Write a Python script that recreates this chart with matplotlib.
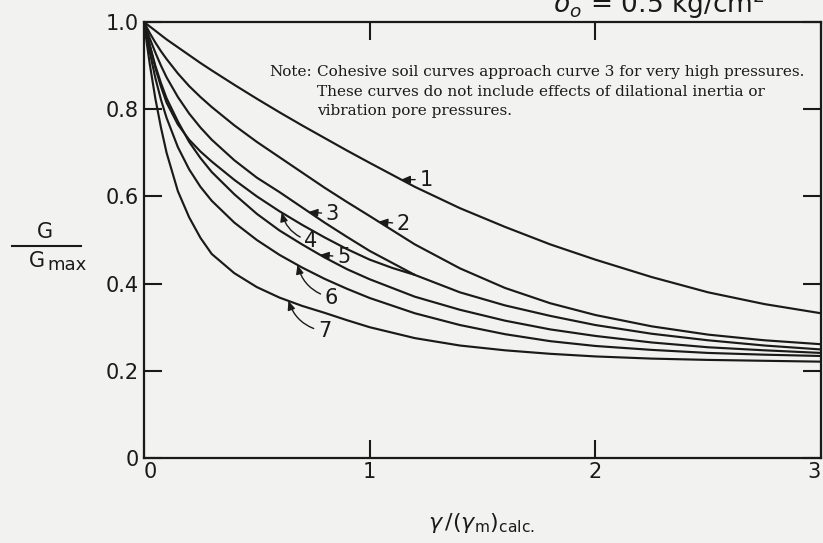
import numpy as np
import matplotlib
matplotlib.use("Agg")
import matplotlib.pyplot as plt
from matplotlib.lines import Line2D

# ---------------- data ----------------
x = [0, 0.01, 0.025, 0.05, 0.075, 0.1, 0.15, 0.2, 0.25, 0.3, 0.4, 0.5, 0.6, 0.7, 0.8, 0.9,
     1.0, 1.2, 1.4, 1.6, 1.8, 2.0, 2.25, 2.5, 2.75, 3.0]
curve1 = [1.0, 0.996, 0.99, 0.98, 0.97, 0.96, 0.942, 0.924, 0.906, 0.889, 0.856, 0.824, 0.793, 0.763, 0.734, 0.705,
          0.677, 0.622, 0.573, 0.53, 0.49, 0.455, 0.415, 0.38, 0.353, 0.332]
curve2 = [1.0, 0.99, 0.975, 0.953, 0.933, 0.915, 0.882, 0.853, 0.828, 0.805, 0.763, 0.725, 0.69, 0.655, 0.62, 0.587,
          0.555, 0.49, 0.435, 0.39, 0.355, 0.328, 0.302, 0.283, 0.27, 0.261]
curve3 = [1.0, 0.985, 0.963, 0.93, 0.90, 0.873, 0.828, 0.79, 0.758, 0.73, 0.683, 0.643, 0.61, 0.575, 0.54, 0.507,
          0.475, 0.42, 0.38, 0.35, 0.326, 0.305, 0.285, 0.27, 0.258, 0.249]
x4 = [0, 0.01, 0.025, 0.05, 0.075, 0.1, 0.15, 0.2, 0.25, 0.3, 0.4, 0.5, 0.6, 0.7, 0.8, 0.9, 1.0, 1.1, 1.2]
curve4 = [1.0, 0.978, 0.947, 0.895, 0.852, 0.815, 0.765, 0.73, 0.703, 0.68, 0.638, 0.6, 0.566, 0.535, 0.506, 0.479,
          0.455, 0.436, 0.42]
curve5 = [1.0, 0.978, 0.948, 0.90, 0.86, 0.825, 0.772, 0.725, 0.688, 0.656, 0.605, 0.56, 0.522, 0.49, 0.46, 0.433,
          0.41, 0.37, 0.34, 0.315, 0.295, 0.28, 0.265, 0.254, 0.247, 0.241]
curve6 = [1.0, 0.972, 0.932, 0.872, 0.822, 0.78, 0.713, 0.662, 0.622, 0.59, 0.54, 0.50, 0.466, 0.437, 0.411, 0.388,
          0.367, 0.332, 0.305, 0.284, 0.268, 0.257, 0.248, 0.241, 0.237, 0.234]
curve7 = [1.0, 0.96, 0.905, 0.825, 0.758, 0.70, 0.612, 0.552, 0.505, 0.468, 0.424, 0.392, 0.368, 0.349, 0.333, 0.316,
          0.30, 0.275, 0.258, 0.247, 0.239, 0.233, 0.228, 0.225, 0.223, 0.221]

curve_names = ["1", "2", "3", "4", "5", "6", "7"]
xticks = [0, 1, 2, 3]
xtick_labels = ["0", "1", "2", "3"]
yticks = [0, 0.2, 0.4, 0.6, 0.8, 1.0]
ytick_labels = ["0", "0.2", "0.4", "0.6", "0.8", "1.0"]

note_lines = ["Cohesive soil curves approach curve 3 for very high pressures.",
              "These curves do not include effects of dilational inertia or",
              "vibration pore pressures."]

# ---------------- figure ----------------
plt.rcParams['mathtext.fontset'] = 'dejavusans'
SANS = "DejaVu Sans"
fig = plt.figure(figsize=(8.23, 5.43), dpi=100)
bg = "#f2f2f0"
fig.patch.set_facecolor(bg)
ax = fig.add_axes([0.175, 0.1565, 0.8225, 0.803])
ax.set_facecolor(bg)

ink = "#1a1a1a"
lw = 1.55
series = [(x, curve1), (x, curve2), (x, curve3), (x4, curve4), (x, curve5), (x, curve6), (x, curve7)]
for xs, ys in series:
    ax.plot(xs, ys, color=ink, lw=lw, solid_capstyle='round', solid_joinstyle='round')

ax.set_xlim(0, 3)
ax.set_ylim(0, 1.0)
for s in ax.spines.values():
    s.set_linewidth(1.6)
    s.set_color(ink)

ax.set_xticks(xticks)
ax.set_xticklabels(xtick_labels, fontsize=15, family=SANS, color=ink)
ax.set_yticks(yticks)
ax.set_yticklabels(ytick_labels, fontsize=15, family=SANS, color=ink)
ax.tick_params(axis='both', direction='in', length=13, width=1.5, color=ink,
               top=True, right=True)
ax.tick_params(axis='x', pad=3)
ax.tick_params(axis='y', pad=4)
labs = ax.get_xticklabels()
labs[-1].set_horizontalalignment('right')
labs[0].set_horizontalalignment('left')

# ---------------- curve labels with arrows ----------------
def lab(name, xs, ys, xt, dx, dy, rad=0.0):
    yt = float(np.interp(xt, xs, ys))
    ax.annotate(name, xy=(xt, yt), xytext=(xt + dx, yt + dy), fontsize=15, family=SANS,
                color=ink, ha='left', va='center',
                arrowprops=dict(arrowstyle='-|>,head_length=0.35,head_width=0.15',
                                color=ink, lw=1.0, shrinkA=1, shrinkB=0,
                                connectionstyle=f"arc3,rad={rad}"))

lab(curve_names[0], x, curve1, 1.14, 0.08, 0.0)
lab(curve_names[1], x, curve2, 1.04, 0.08, -0.005)
lab(curve_names[2], x, curve3, 0.73, 0.075, -0.005)
lab(curve_names[3], x4, curve4, 0.61, 0.10, -0.065, rad=-0.3)
lab(curve_names[4], x, curve5, 0.78, 0.075, -0.005)
lab(curve_names[5], x, curve6, 0.68, 0.12, -0.075, rad=-0.3)
lab(curve_names[6], x, curve7, 0.64, 0.13, -0.07, rad=-0.3)

# ---------------- note ----------------
serif = "DejaVu Serif"
ax.text(0.555, 0.885, "Note:", fontsize=11, family=serif, color=ink, va='center')
for i, line in enumerate(note_lines):
    ax.text(0.765, 0.885 - 0.045 * i, line, fontsize=11, family=serif, color=ink, va='center')

# ---------------- axis labels ----------------
fig.text(0.055, 0.555, "G", fontsize=15, family=SANS, color=ink, ha='center', va='bottom')
fig.add_artist(Line2D([0.015, 0.098], [0.547, 0.547], color=ink, lw=1.5))
fig.text(0.055, 0.538, "G", fontsize=15, family=SANS, color=ink, ha='right', va='top')
fig.text(0.058, 0.528, "max", fontsize=13, family=SANS, color=ink, ha='left', va='top')

fig.text(0.585, 0.015, r"$\gamma\,/(\gamma_{\mathrm{m}})_{\mathrm{calc.}}$", fontsize=16,
         color=ink, ha='center', va='bottom')

# partially visible header (cut off at top of the scan)
fig.text(0.80, 0.976, r"$\bar{\sigma}_{o}$ = 0.5 kg/cm$^2$", fontsize=19, family=SANS,
         color=ink, ha='center', va='baseline')

fig.savefig("out.png", dpi=100, facecolor=fig.get_facecolor())
